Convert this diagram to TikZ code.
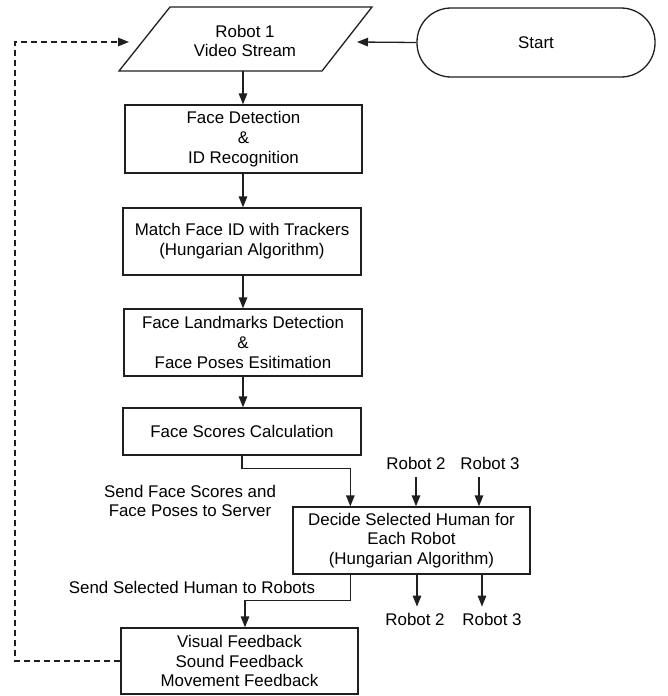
\documentclass[tikz,border=0pt]{standalone}
\usepackage{fontspec}
\setmainfont{Liberation Sans}
\usetikzlibrary{arrows.meta,calc}

\tikzset{
  flow/.style={line width=1.3pt, draw=black!88},
  arr/.style={flow, -{Triangle[length=11pt,width=8.5pt]}},
  procbox/.style={flow, rectangle, align=center, inner sep=0pt,
    minimum width=237pt, font=\fontsize{16.9}{19.8}\selectfont},
  lbl/.style={align=center, inner sep=0pt, font=\fontsize{16.9}{19.8}\selectfont},
}

\begin{document}
\begin{tikzpicture}[x=1pt,y=-1pt]
\useasboundingbox (0,0) rectangle (667,696);

% input parallelogram for the first robot's camera
\coordinate (vsTL) at (170,7);
\coordinate (vsTR) at (372,7);
\coordinate (vsBR) at (322,71);
\coordinate (vsBL) at (119,71);
\draw[flow, line join=miter] (vsTL) -- (vsTR) -- (vsBR) -- (vsBL) -- cycle;
\node[lbl] (vs) at (245,41) {Robot 1\\Video Stream};
\coordinate (vsB) at (243,71);
\coordinate (vsL) at (129,42);
\coordinate (vsR) at (357,42);

% terminal
\node[flow, rectangle, rounded corners=34pt, minimum width=238pt,
  minimum height=69pt, inner sep=0pt, font=\fontsize{16.9}{19.8}\selectfont]
  (start) at (536,42.5) {Start};

% processing chain
\node[procbox, minimum height=68pt] (fd) at (243.5,139)
  {Face Detection\\\&\\ID Recognition};
\node[procbox, minimum width=238pt, minimum height=67pt] (match) at (242,241.5)
  {Match Face ID with Trackers\\(Hungarian Algorithm)};
\node[procbox, minimum width=238pt, minimum height=67pt] (lm) at (243,342.5)
  {Face Landmarks Detection\\\&\\Face Poses Esitimation};
\node[procbox, minimum width=238pt, minimum height=47pt] (sc) at (242,431.5)
  {Face Scores Calculation};
\node[procbox, minimum height=67pt] (dec) at (411.5,540.5)
  {Decide Selected Human for\\Each Robot\\(Hungarian Algorithm)};
\node[procbox, minimum height=66pt] (fb) at (239.5,661)
  {Visual Feedback\\Sound Feedback\\Movement Feedback};

% other robots
\node[lbl] (r2in) at (416,463) {Robot 2};
\node[lbl] (r3in) at (490,463) {Robot 3};
\node[lbl] (r2out) at (415,619) {Robot 2};
\node[lbl] (r3out) at (492,619) {Robot 3};

% edge labels
\node[lbl] (sendScores) at (190,501) {Send Face Scores and\\Face Poses to Server};
\node[lbl] (sendHuman) at (192,587) {Send Selected Human to Robots};

% connectors
\draw[arr] (start.west) -- (vsR);
\draw[arr] (vsB) -- (vsB |- fd.north);
\draw[arr] (fd.south -| vsB) -- (vsB |- match.north);
\draw[arr] (match.south -| vsB) -- (vsB |- lm.north);
\draw[arr] (lm.south -| vsB) -- (vsB |- sc.north);
\draw[arr] (sc.south) -- ++(0,13) -| ([xshift=58pt]dec.north west);
\draw[arr] ([yshift=-8pt]r2in.south) -- (r2in.south |- dec.north);
\draw[arr] ([xshift=-11pt,yshift=-8pt]r3in.south) -- ([xshift=-11pt]r3in.south |- dec.north);
\draw[arr] ([xshift=2pt]r2out.north |- dec.south) -- ([xshift=2pt,yshift=6pt]r2out.north);
\draw[arr] ([xshift=-10pt]r3out.north |- dec.south) -- ([xshift=-10pt,yshift=6pt]r3out.north);
\draw[arr] ([xshift=58pt]dec.south west) -- ++(0,26) -| ([xshift=5.5pt]fb.north);

% feedback loop back to the video stream
\coordinate (loopTop) at (15,42);
\draw[arr, dashed, dash pattern=on 6pt off 4pt] (fb.west) -| (loopTop) -- (vsL);
\end{tikzpicture}
\end{document}
